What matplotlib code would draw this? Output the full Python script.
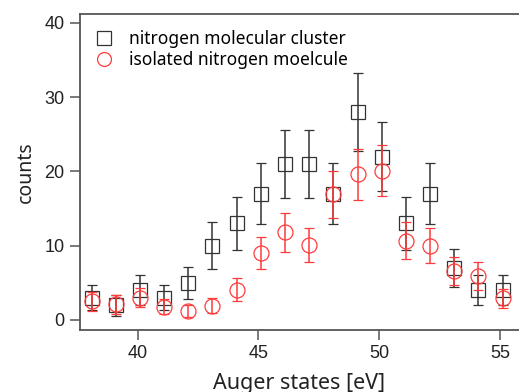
import matplotlib
matplotlib.use("Agg")
import matplotlib.pyplot as plt
from matplotlib.lines import Line2D

plt.rcParams["font.family"] = ["Noto Sans", "DejaVu Sans"]

# Auger electron energies
energy = [38.1, 39.1, 40.1, 41.1, 42.1, 43.1, 44.1, 45.1, 46.1,
          47.1, 48.1, 49.1, 50.1, 51.1, 52.1, 53.1, 54.1, 55.1]

# nitrogen molecular cluster
cluster = [3, 2, 4, 3, 5, 10, 13, 17, 21, 21, 17, 28, 22, 13, 17, 7, 4, 4]
cluster_err = [1.7, 1.4, 2.0, 1.7, 2.2, 3.2, 3.6, 4.1, 4.6, 4.6, 4.1,
               5.3, 4.7, 3.6, 4.1, 2.6, 2.0, 2.0]

# isolated nitrogen molecule
isolated = [2.5, 2.1, 3.0, 1.8, 1.2, 1.9, 4.1, 9.0, 11.8, 10.1, 16.9,
            19.6, 20.1, 10.7, 10.0, 6.6, 5.9, 2.9]
isolated_err = [1.3, 1.3, 1.3, 1.0, 0.8, 1.0, 1.5, 2.2, 2.6, 2.35, 3.2,
                3.4, 3.4, 2.5, 2.35, 1.9, 1.9, 1.3]

BLACK = "#333333"
RED = "#ff3b3b"

fig = plt.figure(figsize=(5.19, 3.92), dpi=100)
ax = fig.add_axes([80 / 519, 62 / 392, 1 - 80 / 519, 316 / 392])

ax.errorbar(energy, cluster, yerr=cluster_err, fmt="s", ms=10.3,
            mfc="none", mec=BLACK, mew=0.9, ecolor=BLACK, elinewidth=1.1,
            capsize=3.8, capthick=1.1, zorder=3)
ax.errorbar(energy, isolated, yerr=isolated_err, fmt="o", ms=10.8,
            mfc="none", mec=RED, mew=0.9, ecolor=RED, elinewidth=1.1,
            capsize=3.8, capthick=1.1, zorder=4)

ax.set_xlim(37.62, 55.78)
ax.set_ylim(-1.35, 41.2)
ax.set_xticks([40, 45, 50, 55])
ax.set_yticks([0, 10, 20, 30, 40])

for s in ["left", "bottom", "top"]:
    ax.spines[s].set_color("#555555")
    ax.spines[s].set_linewidth(1.3)
ax.spines["right"].set_visible(False)
ax.tick_params(axis="both", direction="out", length=7, width=1.1,
               color="#555555", labelsize=13, labelcolor="#222222", pad=4,
               top=False, right=False)
for lab in ax.get_xticklabels() + ax.get_yticklabels():
    lab.set_family(["Liberation Sans", "DejaVu Sans"])

ax.set_ylabel("counts", fontsize=14, color="#222222", labelpad=6)
ax.set_xlabel("Auger states [eV]", fontsize=15.5, color="#222222", labelpad=8)

handles = [
    Line2D([], [], ls="none", marker="s", ms=9.5, mfc="none", mec=BLACK, mew=0.9),
    Line2D([], [], ls="none", marker="o", ms=10.0, mfc="none", mec=RED, mew=0.9),
]
ax.legend(handles, ["nitrogen molecular cluster", "isolated nitrogen moelcule"],
          loc="upper left", frameon=False, fontsize=12.5, handlelength=1.0,
          handletextpad=0.9, labelspacing=0.2, borderaxespad=0.5,
          bbox_to_anchor=(0.0, 1.0))

fig.savefig("out.png", dpi=100)
